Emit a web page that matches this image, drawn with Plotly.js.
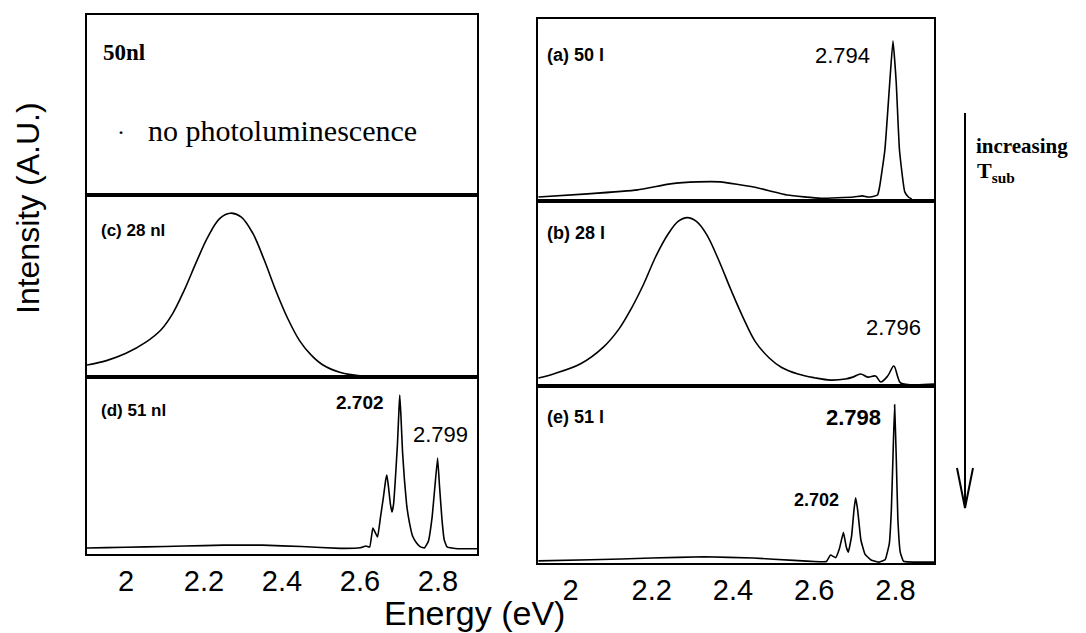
<!DOCTYPE html>
<html>
<head>
<meta charset="utf-8">
<script src="https://cdn.plot.ly/plotly-3.0.1.min.js"></script>
<style>
  html, body { margin: 0; padding: 0; background: #fff; }
  #plot { width: 1086px; height: 633px; }
</style>
</head>
<body>
<div id="plot"></div>
<script>
// Photoluminescence spectra, intensity in arbitrary units (panel height = 1)

// (c) 28 nl
const energyC = [1.900, 1.950, 2.000, 2.050, 2.090, 2.120, 2.150, 2.180, 2.210, 2.240, 2.267, 2.295, 2.325, 2.355, 2.385, 2.415, 2.445, 2.475, 2.505, 2.550, 2.600, 2.700, 2.900];
const intensityC = [0.066, 0.090, 0.130, 0.190, 0.260, 0.350, 0.480, 0.630, 0.770, 0.870, 0.900, 0.880, 0.790, 0.640, 0.470, 0.320, 0.200, 0.120, 0.066, 0.025, 0.007, 0.002, 0.002];

// (d) 51 nl
const energyD = [1.900, 1.950, 2.050, 2.150, 2.250, 2.350, 2.450, 2.550, 2.600, 2.615, 2.625, 2.633, 2.645, 2.652, 2.660, 2.666, 2.669, 2.673, 2.678, 2.682, 2.686, 2.690, 2.696, 2.700, 2.702, 2.705, 2.709, 2.714, 2.720, 2.727, 2.735, 2.745, 2.755, 2.765, 2.775, 2.785, 2.792, 2.799, 2.804, 2.810, 2.816, 2.823, 2.850, 2.900];
const intensityD = [0.034, 0.036, 0.040, 0.045, 0.050, 0.050, 0.042, 0.032, 0.035, 0.045, 0.040, 0.147, 0.096, 0.200, 0.320, 0.420, 0.446, 0.380, 0.280, 0.237, 0.280, 0.400, 0.620, 0.820, 0.898, 0.780, 0.580, 0.418, 0.270, 0.175, 0.100, 0.062, 0.040, 0.034, 0.070, 0.210, 0.380, 0.542, 0.380, 0.200, 0.080, 0.040, 0.030, 0.030];

// (a) 50 l
const energyA = [1.921, 2.042, 2.165, 2.246, 2.313, 2.369, 2.451, 2.534, 2.616, 2.697, 2.719, 2.732, 2.745, 2.756, 2.761, 2.774, 2.786, 2.794, 2.802, 2.810, 2.823, 2.832, 2.840];
const intensityA = [0.022, 0.039, 0.061, 0.094, 0.105, 0.105, 0.077, 0.033, 0.015, 0.022, 0.028, 0.022, 0.025, 0.033, 0.077, 0.280, 0.650, 0.880, 0.650, 0.280, 0.050, 0.022, 0.011];

// (b) 28 l
const energyB = [1.921, 1.958, 2.025, 2.081, 2.120, 2.150, 2.180, 2.210, 2.240, 2.265, 2.288, 2.310, 2.335, 2.365, 2.395, 2.425, 2.455, 2.490, 2.520, 2.560, 2.600, 2.640, 2.677, 2.695, 2.714, 2.732, 2.751, 2.764, 2.781, 2.796, 2.806, 2.813, 2.895];
const intensityB = [0.043, 0.065, 0.120, 0.210, 0.310, 0.420, 0.550, 0.700, 0.820, 0.890, 0.910, 0.890, 0.820, 0.680, 0.520, 0.370, 0.240, 0.150, 0.100, 0.065, 0.045, 0.032, 0.038, 0.048, 0.065, 0.048, 0.054, 0.022, 0.054, 0.108, 0.048, 0.016, 0.010];

// (e) 51 l
const energyE = [1.921, 2.050, 2.200, 2.330, 2.450, 2.550, 2.630, 2.640, 2.653, 2.662, 2.672, 2.679, 2.684, 2.692, 2.698, 2.702, 2.707, 2.715, 2.725, 2.740, 2.760, 2.775, 2.785, 2.790, 2.794, 2.798, 2.802, 2.806, 2.812, 2.820, 2.895];
const intensityE = [0.012, 0.018, 0.028, 0.035, 0.028, 0.015, 0.008, 0.045, 0.030, 0.080, 0.173, 0.090, 0.061, 0.150, 0.300, 0.369, 0.300, 0.130, 0.050, 0.017, 0.005, 0.020, 0.110, 0.300, 0.600, 0.894, 0.600, 0.250, 0.060, 0.010, 0.005];

const tickValues = [2, 2.2, 2.4, 2.6, 2.8];
const tickLabels = ['2', '2.2', '2.4', '2.6', '2.8'];

const W = 1086, H = 633;
const px = v => v / W;
const py = v => 1 - v / H;

const SANS = 'Liberation Sans, Arial, sans-serif';
const SERIF = 'Liberation Serif, Times New Roman, serif';

function suffix(n) { return n === 1 ? '' : String(n); }

function spectrum(x, y, n, smooth) {
  return {
    x: x, y: y, type: 'scatter', mode: 'lines',
    xaxis: 'x' + suffix(n), yaxis: 'y' + suffix(n),
    line: { color: '#000', width: 1.6, shape: 'spline', smoothing: smooth },
    hoverinfo: 'skip', showlegend: false
  };
}

const traces = [
  // (50nl) shows no emission: an empty trace keeps its frame on the page
  spectrum([], [], 1, 0.3),
  spectrum(energyC, intensityC, 2, 1.0),
  spectrum(energyD, intensityD, 3, 0.3),
  spectrum(energyA, intensityA, 4, 0.4),
  spectrum(energyB, intensityB, 5, 1.0),
  spectrum(energyE, intensityE, 6, 0.3)
];

function xAxis(n, domain, range, labels) {
  return {
    anchor: 'y' + suffix(n),
    domain: domain, range: range, showgrid: false, zeroline: false,
    showline: true, mirror: true, linecolor: '#000', linewidth: 2,
    ticks: '', showticklabels: labels, tickvals: tickValues, ticktext: tickLabels,
    tickfont: { family: SANS, size: 29, color: '#000' }, ticklabelstandoff: 0
  };
}
function yAxis(n, domain) {
  return {
    anchor: 'x' + suffix(n),
    domain: domain, range: [0, 1], showgrid: false, zeroline: false,
    showline: true, mirror: true, linecolor: '#000', linewidth: 2,
    ticks: '', showticklabels: false
  };
}

const leftX = [px(87), px(477)];
const rightX = [px(538), px(934)];
const leftRange = [1.9, 2.9];
const rightRange = [1.92, 2.895];

function label(text, x, y, font, size, opts) {
  return Object.assign({
    text: text, x: px(x), y: py(y), xref: 'paper', yref: 'paper',
    showarrow: false, xanchor: 'left', yanchor: 'middle',
    font: { family: font, size: size, color: '#000' }
  }, opts || {});
}

const annotations = [
  label('<b>50nl</b>', 101, 52, SERIF, 23),
  label('.', 116, 126, SERIF, 24),
  label('no photoluminescence', 146, 130, SERIF, 30),
  label('<b>(c) 28 nl</b>', 99, 230, SANS, 17),
  label('<b>(d) 51 nl</b>', 99, 410, SANS, 17),
  label('<b>2.702</b>', 360, 402, SANS, 19, { xanchor: 'center' }),
  label('2.799', 440, 434, SANS, 22, { xanchor: 'center' }),
  label('<b>(a) 50 l</b>', 545, 55, SANS, 18),
  label('2.794', 842, 55, SANS, 22, { xanchor: 'center' }),
  label('<b>(b) 28 l</b>', 545, 233, SANS, 18),
  label('2.796', 893, 327, SANS, 22, { xanchor: 'center' }),
  label('<b>(e) 51 l</b>', 545, 417, SANS, 18),
  label('<b>2.798</b>', 853, 417, SANS, 22, { xanchor: 'center' }),
  label('<b>2.702</b>', 816, 500, SANS, 18, { xanchor: 'center' }),
  label('<b>increasing</b>', 974, 146, SERIF, 21),
  label('<b>T<sub>sub</sub></b>', 975, 172, SERIF, 22),
  label('Energy (eV)', 474, 613, SANS, 34, { xanchor: 'center' }),
  label('Intensity (A.U.)', 28, 208, SANS, 32, { xanchor: 'center', textangle: -90 })
];

// Arrow: increasing substrate temperature, top to bottom
const shapes = [
  { type: 'line', xref: 'paper', yref: 'paper', x0: px(965), x1: px(965), y0: py(113), y1: py(507), line: { color: '#000', width: 2 } },
  { type: 'path', xref: 'paper', yref: 'paper',
    path: 'M ' + px(957) + ',' + py(468) + ' L ' + px(965) + ',' + py(508) + ' L ' + px(973) + ',' + py(468),
    line: { color: '#000', width: 2 } }
];

const layout = {
  width: W, height: H,
  margin: { l: 0, r: 0, t: 0, b: 0 },
  paper_bgcolor: '#fff', plot_bgcolor: '#fff',
  showlegend: false,
  xaxis: xAxis(1, leftX, leftRange, false),
  yaxis: yAxis(1, [py(195), py(15)]),
  xaxis2: xAxis(2, leftX, leftRange, false),
  yaxis2: yAxis(2, [py(377), py(195)]),
  xaxis3: xAxis(3, leftX, leftRange, true),
  yaxis3: yAxis(3, [py(554), py(377)]),
  xaxis4: xAxis(4, rightX, rightRange, false),
  yaxis4: yAxis(4, [py(201), py(19)]),
  xaxis5: xAxis(5, rightX, rightRange, false),
  yaxis5: yAxis(5, [py(386), py(201)]),
  xaxis6: xAxis(6, rightX, rightRange, true),
  yaxis6: yAxis(6, [py(563), py(386)]),
  annotations: annotations,
  shapes: shapes
};

Plotly.newPlot('plot', traces, layout, { staticPlot: true, displayModeBar: false });
</script>
</body>
</html>
